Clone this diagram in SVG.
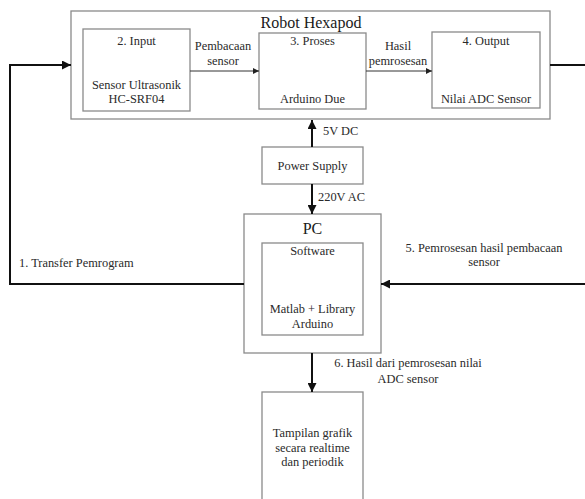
<svg xmlns="http://www.w3.org/2000/svg" width="585" height="499" viewBox="0 0 585 499">
<style>
.box{fill:#ffffff;stroke:#8a8a8a;stroke-width:1.3}
.t{font-family:"Liberation Serif","Times New Roman",serif;font-size:12.4px;fill:#2a2a2a;text-anchor:middle}
.l{text-anchor:start}
.title{font-size:16px;fill:#1a1a1a}
.thick{fill:none;stroke:#111;stroke-width:2}
.thin{fill:none;stroke:#333;stroke-width:1}
</style>
<defs>
<marker id="ah" markerUnits="userSpaceOnUse" markerWidth="10" markerHeight="9" refX="9" refY="4.5" orient="auto">
<path d="M0,0 L9,4.5 L0,9 z" fill="#111"/>
</marker>
<marker id="as" markerUnits="userSpaceOnUse" markerWidth="7" markerHeight="6" refX="6" refY="3" orient="auto">
<path d="M0,0 L6,3 L0,6 z" fill="#222"/>
</marker>
</defs>
<rect width="585" height="499" fill="#ffffff"/>

<g id="robot-hexapod">
<rect class="box" x="71" y="11" width="479" height="108"/>
<text class="t title" x="311" y="28">Robot Hexapod</text>
</g>
<g id="input">
<rect class="box" x="83" y="29" width="107" height="82"/>
<text class="t" x="136.5" y="45">2. Input</text>
<text class="t" x="136.5" y="89">Sensor Ultrasonik</text>
<text class="t" x="136.5" y="103">HC-SRF04</text>
</g>
<g id="proses">
<rect class="box" x="259" y="33" width="107" height="76"/>
<text class="t" x="312.5" y="45">3. Proses</text>
<text class="t" x="312.5" y="103">Arduino Due</text>
</g>
<g id="output">
<rect class="box" x="432" y="32" width="108" height="76"/>
<text class="t" x="486" y="45">4. Output</text>
<text class="t" x="486" y="103">Nilai ADC Sensor</text>
</g>
<g id="power-supply">
<rect class="box" x="262" y="147" width="101" height="37"/>
<text class="t" x="312.5" y="170">Power Supply</text>
</g>
<g id="pc">
<rect class="box" x="244" y="214" width="137" height="139"/>
<text class="t title" x="312.5" y="234">PC</text>
</g>
<g id="software">
<rect class="box" x="262" y="243" width="101" height="92"/>
<text class="t" x="312.5" y="255">Software</text>
<text class="t" x="312.5" y="313">Matlab + Library</text>
<text class="t" x="312.5" y="328">Arduino</text>
</g>
<g id="tampilan">
<rect class="box" x="262" y="392" width="101" height="115"/>
<text class="t" x="312.5" y="437">Tampilan grafik</text>
<text class="t" x="312.5" y="452">secara realtime</text>
<text class="t" x="312.5" y="466">dan periodik</text>
</g>

<g id="connectors">
<line class="thin" x1="190" y1="71" x2="259" y2="71" marker-end="url(#as)"/>
<text class="t" x="223" y="50">Pembacaan</text>
<text class="t" x="223" y="65">sensor</text>
<line class="thin" x1="366" y1="71" x2="432" y2="71" marker-end="url(#as)"/>
<text class="t" x="398" y="50">Hasil</text>
<text class="t" x="398" y="65">pemrosesan</text>

<line class="thick" x1="312" y1="147" x2="312" y2="120" marker-end="url(#ah)"/>
<text class="t l" x="323" y="135">5V DC</text>
<line class="thick" x1="312" y1="184" x2="312" y2="214" marker-end="url(#ah)"/>
<text class="t l" x="318" y="201">220V AC</text>

<polyline class="thick" points="244,284 10,284 10,65 71,65" marker-end="url(#ah)"/>
<text class="t l" x="19" y="267">1. Transfer Pemrogram</text>

<line class="thick" x1="550" y1="65" x2="586" y2="65"/>
<line class="thick" x1="586" y1="284" x2="381" y2="284" marker-end="url(#ah)"/>
<text class="t" x="484" y="252">5. Pemrosesan hasil pembacaan</text>
<text class="t" x="484" y="266">sensor</text>

<line class="thick" x1="312" y1="353" x2="312" y2="392" marker-end="url(#ah)"/>
<text class="t" x="408" y="367">6. Hasil dari pemrosesan nilai</text>
<text class="t" x="408" y="383">ADC sensor</text>
</g>
</svg>
